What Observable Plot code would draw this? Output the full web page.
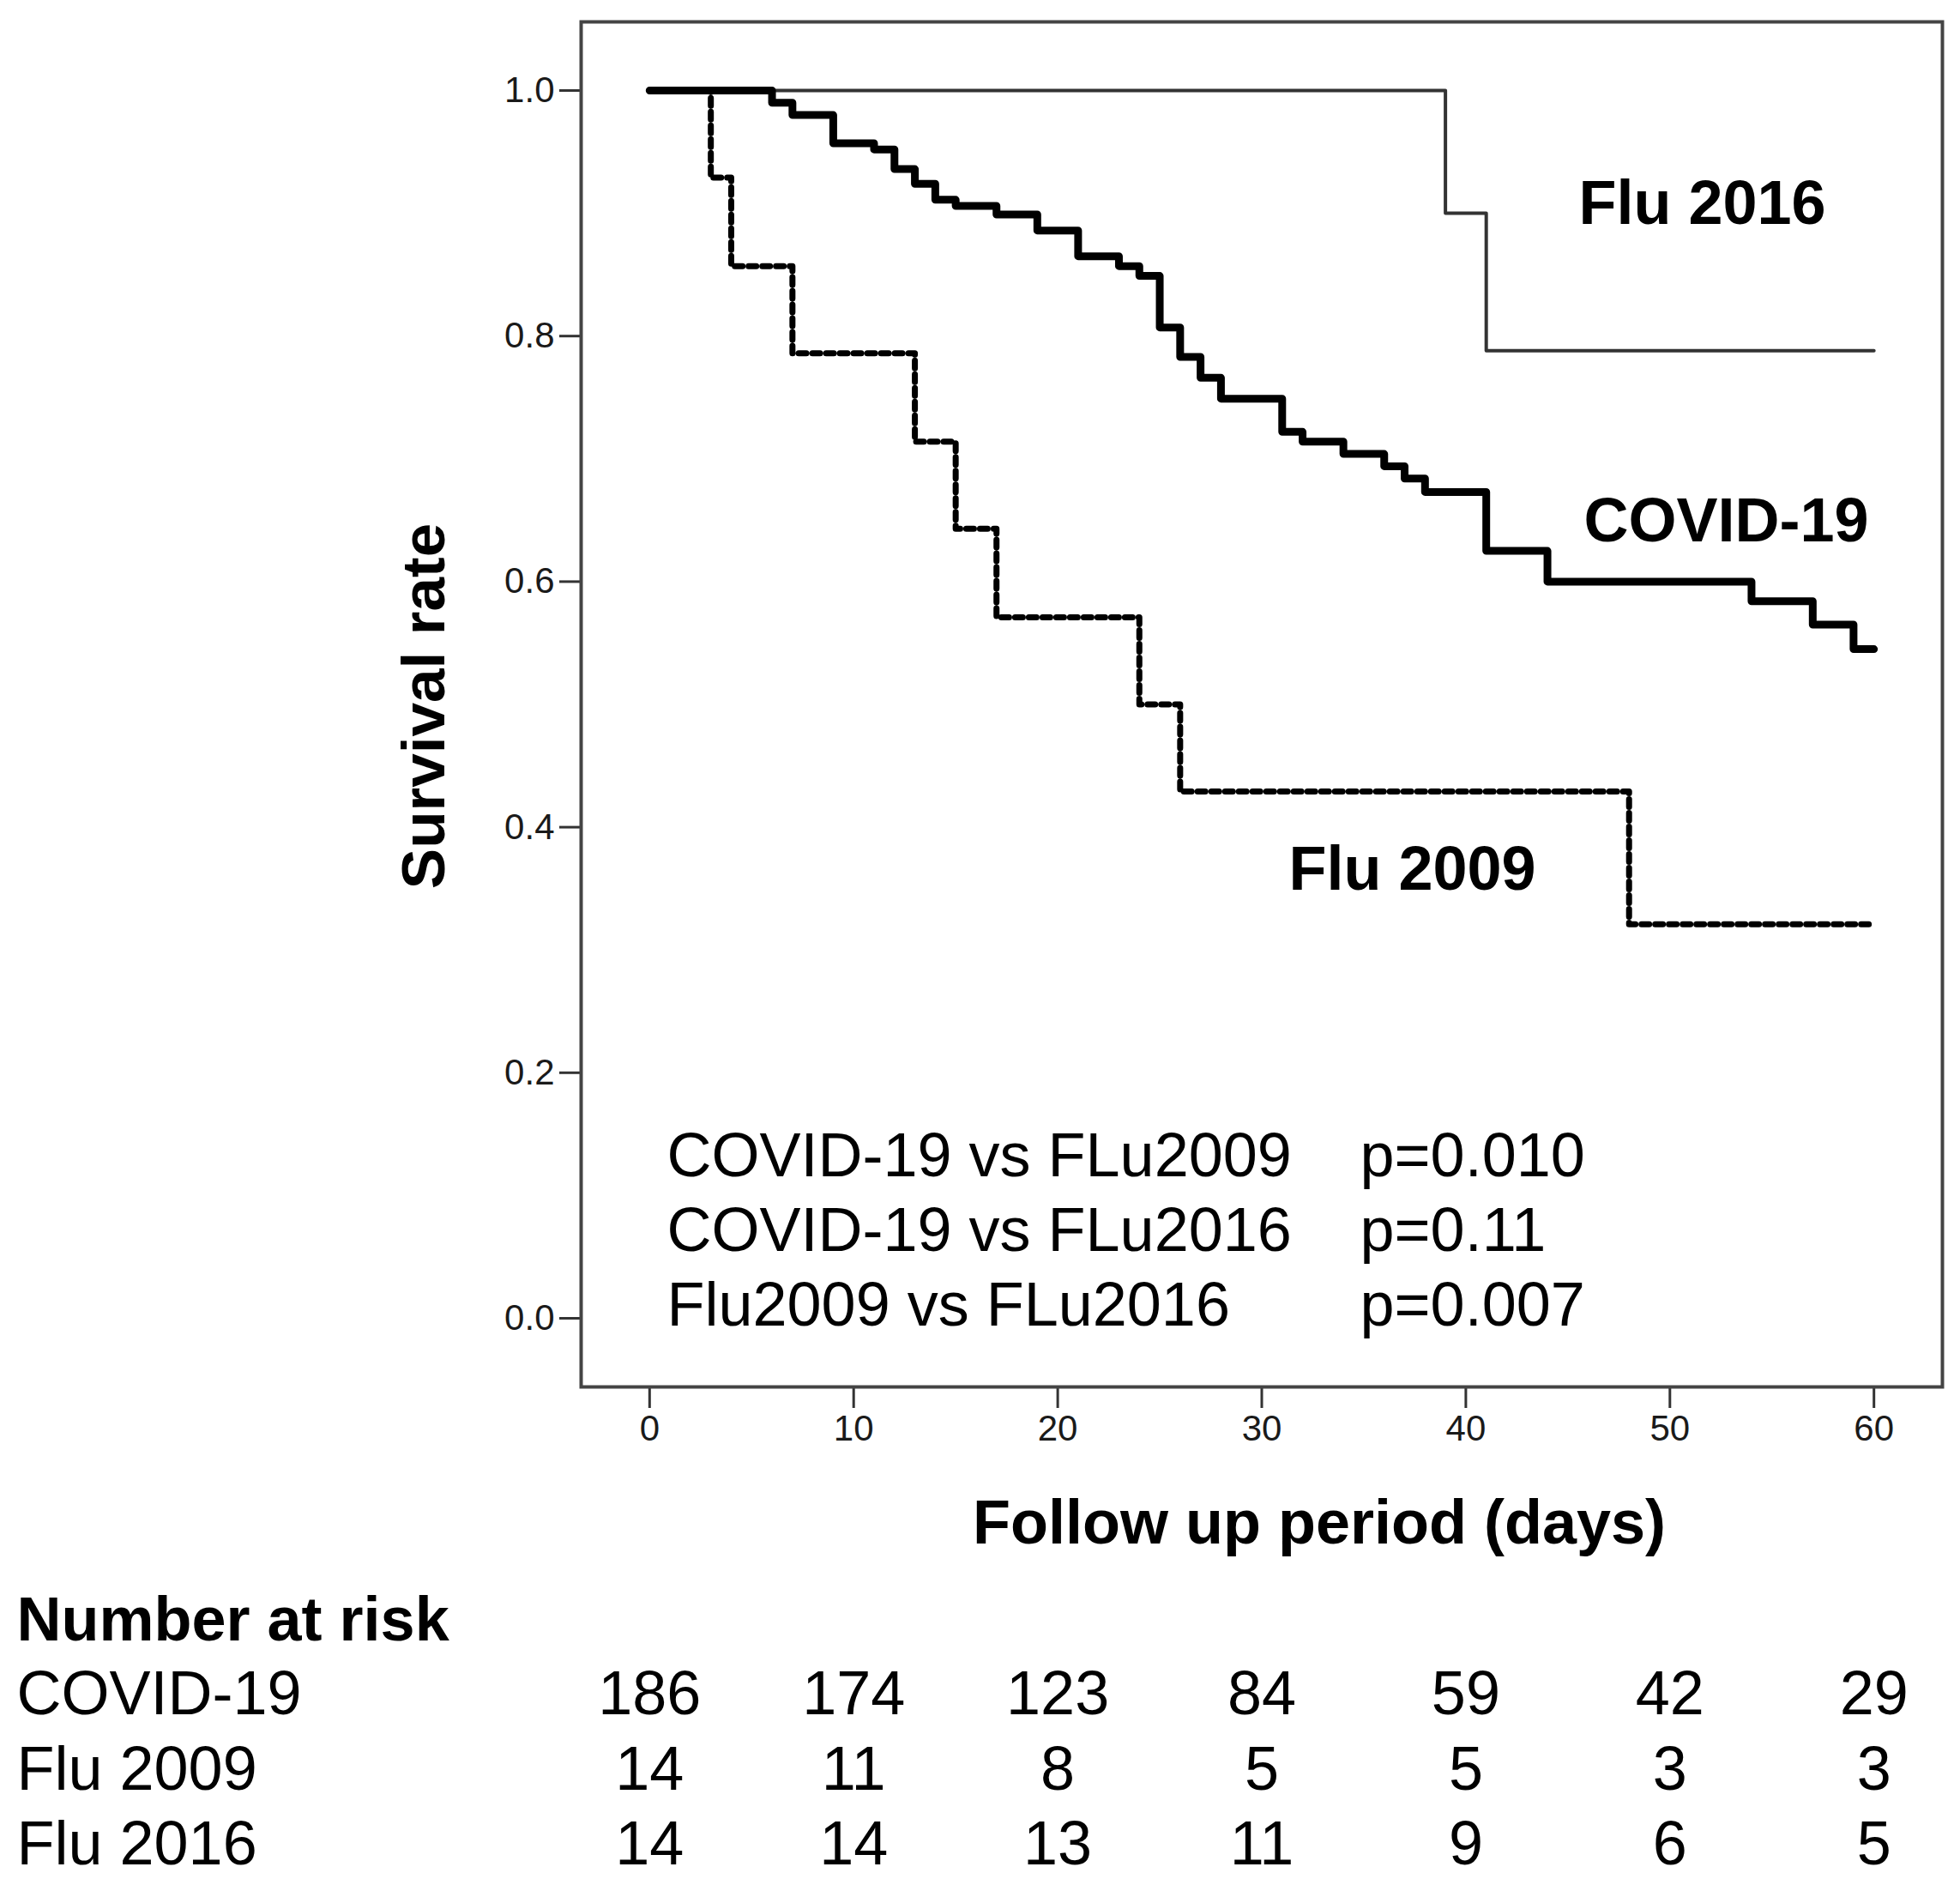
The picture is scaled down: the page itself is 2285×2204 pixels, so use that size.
<!DOCTYPE html>
<html>
<head>
<meta charset="utf-8">
<script src="https://cdn.jsdelivr.net/npm/d3@7"></script>
<script src="https://cdn.jsdelivr.net/npm/@observablehq/plot@0.6"></script>
<style>
  html, body { margin: 0; padding: 0; background: #fff; }
  #chart svg { display: block; }
</style>
</head>
<body>
<div id="chart"></div>
<script>
// ---- Data ----
const covidDays = [0, 6, 7, 9, 11, 12, 13, 14, 15, 17, 19, 21, 23, 24, 25, 26, 27, 28, 31, 32, 34, 36, 37, 38, 41, 44, 54, 57, 59, 60];
const covidSurv = [1.000, 0.990, 0.980, 0.957, 0.952, 0.936, 0.924, 0.911, 0.906, 0.899, 0.886, 0.865, 0.857, 0.849, 0.807, 0.783, 0.766, 0.749, 0.722, 0.714, 0.704, 0.694, 0.684, 0.673, 0.625, 0.600, 0.584, 0.565, 0.545, 0.545];

const flu2009Days = [0, 3, 4, 7, 13, 15, 17, 24, 26, 48, 60];
const flu2009Surv = [1.000, 0.929, 0.857, 0.786, 0.714, 0.643, 0.571, 0.500, 0.429, 0.321, 0.321];

const flu2016Days = [0, 39, 41, 60];
const flu2016Surv = [1.000, 0.900, 0.788, 0.788];

const xTicks = [0, 10, 20, 30, 40, 50, 60];
const yTicks = [0.0, 0.2, 0.4, 0.6, 0.8, 1.0];

const riskDays = [0, 10, 20, 30, 40, 50, 60];
const riskGroups = ["COVID-19", "Flu 2009", "Flu 2016"];
const riskCovid = [186, 174, 123, 84, 59, 42, 29];
const riskFlu2009 = [14, 11, 8, 5, 5, 3, 3];
const riskFlu2016 = [14, 14, 13, 11, 9, 6, 5];

const comparisons = ["COVID-19 vs FLu2009", "COVID-19 vs FLu2016", "Flu2009 vs FLu2016"];
const pValues = ["p=0.010", "p=0.11", "p=0.007"];

const curveLabels = ["Flu 2016", "COVID-19", "Flu 2009"];

// ---- Layout ----
const W = 2285, H = 2204;
const mL = 677, mT = 25, mR = 21, mB = 588;
const font = "'Liberation Sans', Arial, Helvetica, sans-serif";
const rows = (days, surv) => days.map((d, i) => ({day: d, surv: surv[i]}));

const marks = [];

// axes
marks.push(Plot.axisY({ticks: yTicks, tickFormat: d3.format(".1f"), tickSize: 25, tickPadding: 6,
  stroke: "#333", strokeWidth: 3, fontSize: 42, fill: "#1a1a1a", label: null}));
marks.push(Plot.axisX({ticks: xTicks, tickFormat: d3.format("d"), tickSize: 25, tickPadding: 8,
  stroke: "#333", strokeWidth: 3, fontSize: 42, fill: "#1a1a1a", label: null}));

// survival curves
marks.push(Plot.line(rows(flu2016Days, flu2016Surv), {x: "day", y: "surv", curve: "step-after",
  stroke: "#333", strokeWidth: 4}));
marks.push(Plot.line(rows(flu2009Days, flu2009Surv), {x: "day", y: "surv", curve: "step-after",
  stroke: "#000", strokeWidth: 7, strokeDasharray: "9,7"}));
marks.push(Plot.line(rows(covidDays, covidSurv), {x: "day", y: "surv", curve: "step-after",
  stroke: "#000", strokeWidth: 9}));

// frame
marks.push(Plot.frame({stroke: "#444", strokeWidth: 4}));

// curve labels
const labelPos = [[1163, 235], [1169, 605], [825, 1011]];
curveLabels.forEach((t, i) => {
  marks.push(Plot.text([t], {text: d => d, frameAnchor: "top-left", dx: labelPos[i][0], dy: labelPos[i][1],
    textAnchor: "start", lineAnchor: "bottom", fontSize: 72, fontWeight: "bold", fill: "#000"}));
});

// p-value annotations
const pDy = [-246, -159, -72];
comparisons.forEach((t, i) => {
  marks.push(Plot.text([t], {text: d => d, frameAnchor: "bottom-left", dx: 100, dy: pDy[i],
    textAnchor: "start", lineAnchor: "bottom", fontSize: 72, fill: "#000"}));
  marks.push(Plot.text([pValues[i]], {text: d => d, frameAnchor: "bottom-left", dx: 908, dy: pDy[i],
    textAnchor: "start", lineAnchor: "bottom", fontSize: 72, fill: "#000"}));
});

// axis titles
marks.push(Plot.text(["Follow up period (days)"], {text: d => d, frameAnchor: "bottom", dx: 67, dy: 182,
  textAnchor: "middle", lineAnchor: "bottom", fontSize: 72, fontWeight: "bold", fill: "#000"}));
marks.push(Plot.text(["Survival rate"], {text: d => d, frameAnchor: "left", dx: -160, dy: 2, rotate: -90,
  textAnchor: "middle", lineAnchor: "bottom", fontSize: 71, fontWeight: "bold", fill: "#000"}));

// number at risk table
marks.push(Plot.text(["Number at risk"], {text: d => d, frameAnchor: "bottom-left", dx: -658, dy: 295,
  textAnchor: "start", lineAnchor: "bottom", fontSize: 72, fontWeight: "bold", fill: "#000"}));
const riskValues = [riskCovid, riskFlu2009, riskFlu2016];
const riskDy = [381, 469, 556];
riskGroups.forEach((g, i) => {
  marks.push(Plot.text([g], {text: d => d, frameAnchor: "bottom-left", dx: -658, dy: riskDy[i],
    textAnchor: "start", lineAnchor: "bottom", fontSize: 72, fill: "#000"}));
  marks.push(Plot.text(riskDays.map((d, j) => ({day: d, n: riskValues[i][j]})), {
    x: "day", text: d => String(d.n), frameAnchor: "bottom", dy: riskDy[i],
    textAnchor: "middle", lineAnchor: "bottom", fontSize: 72, fill: "#000"}));
});

const chart = Plot.plot({
  width: W, height: H,
  marginLeft: mL, marginTop: mT, marginRight: mR, marginBottom: mB,
  x: {domain: [-3.355, 63.355]},
  y: {domain: [-0.0559, 1.0559]},
  style: {background: "#fff", fontFamily: font, fontSize: "42px", color: "#000", overflow: "visible"},
  marks
});
document.getElementById("chart").appendChild(chart);
</script>
</body>
</html>
